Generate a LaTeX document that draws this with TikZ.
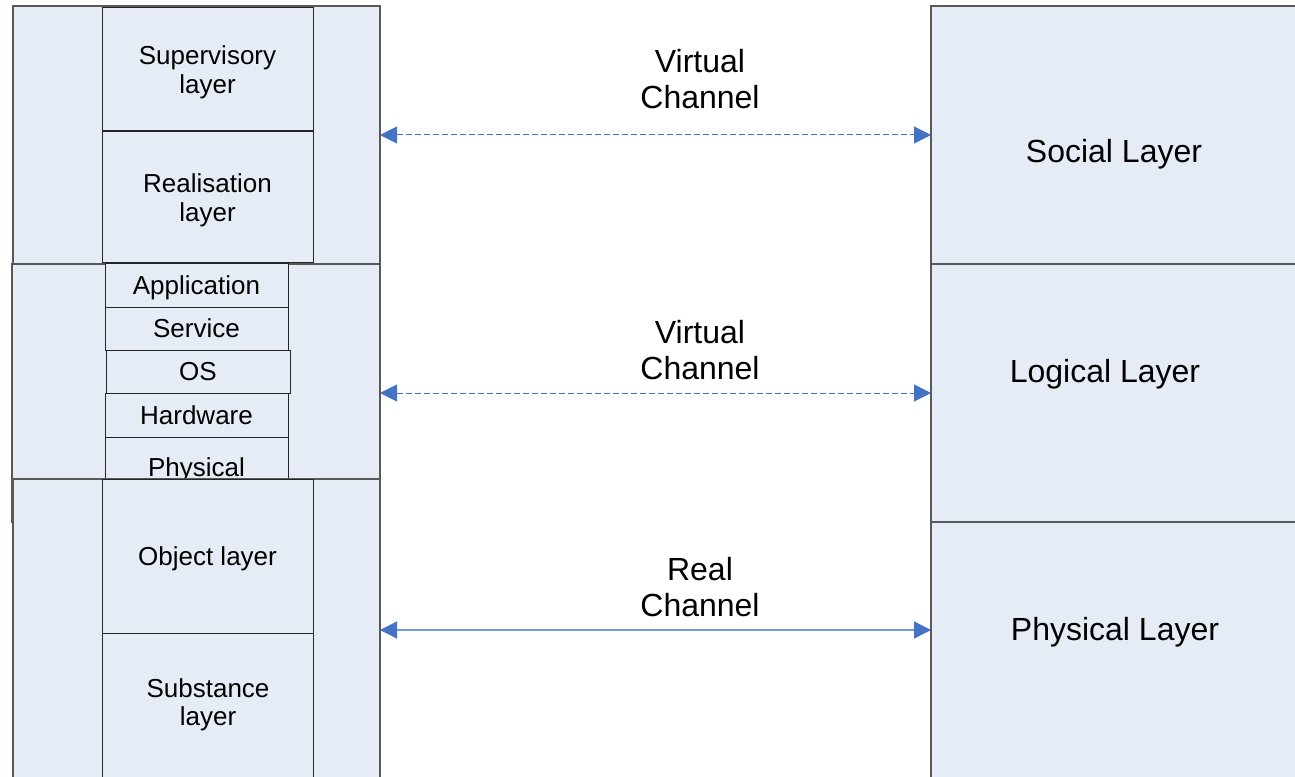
\documentclass[tikz,border=0pt]{standalone}
\usepackage{fontspec}
\setmainfont{Liberation Sans}
\usetikzlibrary{fit,arrows.meta}
\definecolor{layerfill}{RGB}{230,236,246}
\definecolor{chanblue}{RGB}{68,114,196}
\definecolor{reallink}{RGB}{120,152,212}
\begin{document}
\begin{tikzpicture}[x=0.75pt,y=-0.75pt,
  layer/.style={draw=black!85, fill=layerfill, line width=0.75pt, inner sep=0pt,
    outer sep=0pt, align=center, text depth=0pt, font=\fontsize{19.5}{21.5}\selectfont},
  sized/.style 2 args={minimum width=#1*0.75pt, minimum height=#2*0.75pt},
  outer/.style={layer, draw=black!65, line width=0.9pt},
  smalltext/.style={inner sep=0pt, align=center, text depth=0pt, font=\fontsize{19.5}{21.5}\selectfont},
  bigtext/.style={inner sep=0pt, align=center, text depth=0pt, font=\fontsize{24}{27}\selectfont},
  chan/.style={line width=0.75pt,
    {Triangle[length=12.75pt,width=12.75pt,color=chanblue]}-{Triangle[length=12.75pt,width=12.75pt,color=chanblue]}},
  virt/.style={chan, draw=chanblue, dash pattern=on 4.5pt off 2.25pt},
  realchan/.style={chan, draw=reallink, line width=1pt}]
\useasboundingbox (0,0) rectangle (1295,777);
\clip (0,0) rectangle (1295,777);

% left stack: middle frame first, so the lower frame overlaps it
\node[outer, fit={(12,264) (380,522)}] (lmid) {};
\node[outer, fit={(13,6) (380,264)}] (ltop) {};
\node[layer, sized={211}{123}] (sup) at (207.5,69.5) {Supervisory\\layer};
\node[layer, sized={211}{131}] (realis) at (207.5,197.5) {Realisation\\layer};

\node[layer, sized={183}{43}] (app) at (196.5,285.5) {Application};
\node[layer, sized={183}{43}] (svc) at (196.5,328.5) {Service};
\node[layer, sized={184}{43}] (os) at (198,371.5) {OS};
\node[layer, sized={183}{44}] (hw) at (196.5,415) {Hardware};
\node[layer, sized={183}{60}] (phy) at (196.5,467) {Physical};

\node[outer, fit={(13,479) (380,781)}] (lbot) {};
\node[layer, sized={211}{154}] (obj) at (207.5,556) {Object layer};
\node[layer, sized={211}{157}] (subst) at (207.5,711.5) {};
\node[smalltext] (substtxt) at (208,702) {Substance\\layer};

% right stack
\node[outer, fit={(931,6) (1300,264)}] (social) {};
\node[outer, fit={(931,264) (1300,522)}] (logical) {};
\node[outer, fit={(931,522) (1300,781)}] (physical) {};
\node[bigtext] (socialtxt) at (1114,151) {Social Layer};
\node[bigtext] (logicaltxt) at (1105,371) {Logical Layer};
\node[bigtext] (physicaltxt) at (1115,629) {Physical Layer};

% channels
\node[bigtext] (ch1) at (700,79) {Virtual\\Channel};
\node[bigtext] (ch2) at (700,349.5) {Virtual\\Channel};
\node[bigtext] (ch3) at (700,587) {Real\\Channel};
\draw[virt] (ltop.east) -- (social.west);
\draw[virt] (lmid.east) -- (logical.west);
\draw[realchan] (lbot.east) -- (lbot.east -| physical.west);
\end{tikzpicture}
\end{document}
